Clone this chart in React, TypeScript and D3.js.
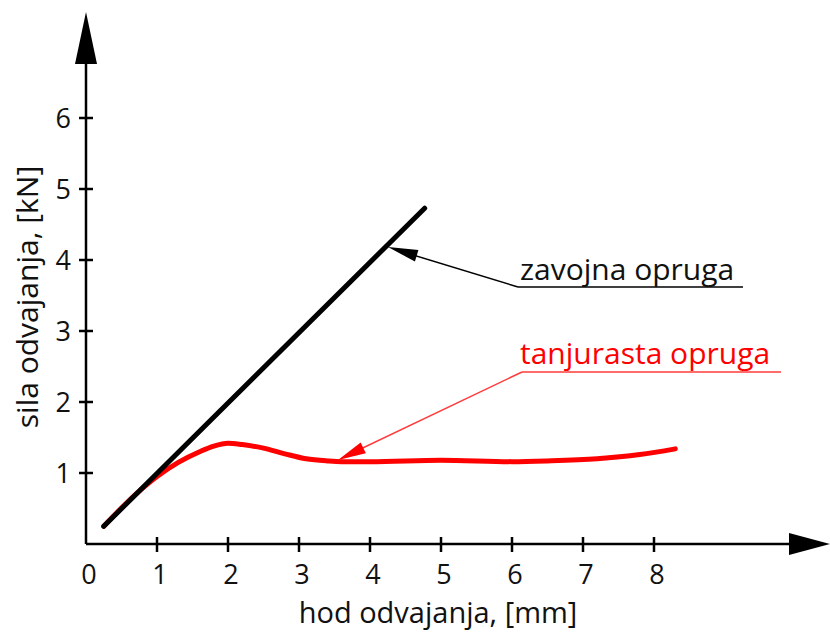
import React from "react";
import * as d3 from "d3";

const xTicks = [0, 1, 2, 3, 4, 5, 6, 7, 8];
const yTicks = [1, 2, 3, 4, 5, 6];
const coilX = [0.25, 4.77];
const coilY = [0.25, 4.73];
const discX = [0.25, 0.7, 1.0, 1.3, 1.6, 1.8, 2.0, 2.2, 2.5, 2.8, 3.1, 3.4, 3.6, 4.0, 5.0, 6.0, 6.5, 7.2, 7.8, 8.3];
const discY = [0.25, 0.7, 0.95, 1.15, 1.3, 1.38, 1.42, 1.4, 1.35, 1.27, 1.2, 1.17, 1.16, 1.16, 1.18, 1.16, 1.17, 1.2, 1.26, 1.34];
const labels = ["zavojna opruga", "tanjurasta opruga"];
const xTitle = "hod odvajanja, [mm]";
const yTitle = "sila odvajanja, [kN]";

const W = 830;
const H = 632;
const FONT = "'Open Sans', sans-serif";

export default function App() {
  const x = d3.scaleLinear().domain([0, 8]).range([86, 654]);
  const y = d3.scaleLinear().domain([0, 6]).range([544, 118]);
  const line = d3.line<[number, number]>().x((d) => x(d[0])).y((d) => y(d[1]));
  const smooth = d3
    .line<[number, number]>()
    .x((d) => x(d[0]))
    .y((d) => y(d[1]))
    .curve(d3.curveMonotoneX);
  const coil: [number, number][] = coilX.map((v, i) => [v, coilY[i]]);
  const disc: [number, number][] = discX.map((v, i) => [v, discY[i]]);

  const arrowHead = (fx: number, fy: number, tx: number, ty: number, len: number, half: number) => {
    const a = Math.atan2(ty - fy, tx - fx);
    const bx = tx - len * Math.cos(a);
    const by = ty - len * Math.sin(a);
    const px = -Math.sin(a) * half;
    const py = Math.cos(a) * half;
    return `M${tx},${ty}L${bx + px},${by + py}L${bx - px},${by - py}Z`;
  };

  return (
    <svg
      width={W}
      height={H}
      style={{ position: "absolute", left: 0, top: 0, background: "#fff" }}
      fontFamily={FONT}
    >
      {/* axes */}
      <line x1={x(0)} y1={y(0)} x2={792} y2={y(0)} stroke="#000" strokeWidth={2.5} />
      <line x1={x(0)} y1={y(0)} x2={x(0)} y2={62} stroke="#000" strokeWidth={2.5} />
      <path d="M86,12L75,64L97,64Z" fill="#000" />
      <path d="M830,544L789,533L789,555Z" fill="#000" />
      {xTicks.slice(1).map((t) => (
        <line key={"xt" + t} x1={x(t)} x2={x(t)} y1={y(0) - 7} y2={y(0) + 8} stroke="#000" strokeWidth={2.5} />
      ))}
      {yTicks.map((t) => (
        <line key={"yt" + t} x1={x(0) - 7} x2={x(0) + 7} y1={y(t)} y2={y(t)} stroke="#000" strokeWidth={2.5} />
      ))}
      {xTicks.map((t) => (
        <text key={"xl" + t} x={x(t) + 3} y={584} fontSize={27} textAnchor="middle" fill="#111">
          {t}
        </text>
      ))}
      {yTicks.map((t) => (
        <text key={"yl" + t} x={71} y={y(t) + 10} fontSize={27} textAnchor="end" fill="#111">
          {t}
        </text>
      ))}
      <text x={438} y={623} fontSize={29} textAnchor="middle" fill="#111">
        {xTitle}
      </text>
      <text
        transform={`translate(38,297) rotate(-90)`}
        fontSize={30}
        textAnchor="middle"
        fill="#111"
      >
        {yTitle}
      </text>

      {/* curves */}
      <path d={smooth(disc) || ""} fill="none" stroke="#ff0000" strokeWidth={5} strokeLinecap="round" />
      <path d={line(coil) || ""} fill="none" stroke="#000" strokeWidth={5} strokeLinecap="round" />

      {/* annotations */}
      <line x1={518} y1={287} x2={743} y2={287} stroke="#000" strokeWidth={1.5} />
      <line x1={518} y1={287} x2={400} y2={251} stroke="#000" strokeWidth={1.5} />
      <path d={arrowHead(518, 287, 388, 247, 30, 6)} fill="#000" />
      <text x={520} y={280} fontSize={30} fill="#111">
        {labels[0]}
      </text>

      <line x1={522} y1={372} x2={781} y2={372} stroke="#ff3b3b" strokeWidth={1.5} />
      <line x1={522} y1={372} x2={348} y2={455} stroke="#ff3b3b" strokeWidth={1.5} />
      <path d={arrowHead(522, 372, 338, 460, 28, 6)} fill="#ff0000" />
      <text x={520} y={364} fontSize={30} fill="#ff0000">
        {labels[1]}
      </text>
    </svg>
  );
}
